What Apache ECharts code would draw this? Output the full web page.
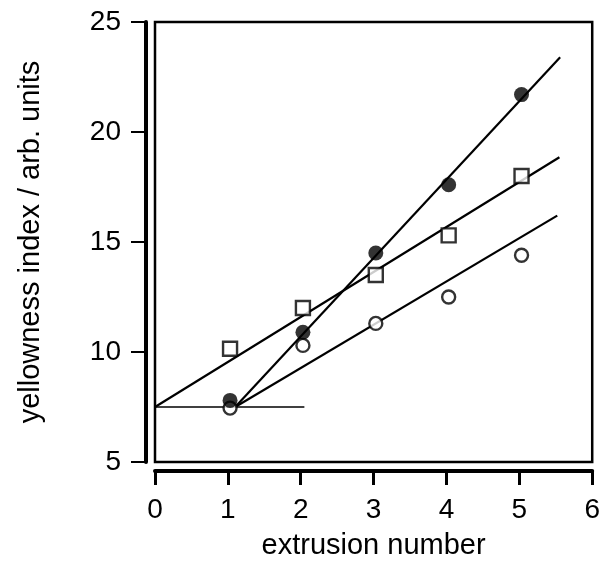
<!DOCTYPE html>
<html>
<head>
<meta charset="utf-8">
<script src="https://cdn.jsdelivr.net/npm/echarts@6/dist/echarts.min.js"></script>
<style>
  html, body { margin: 0; padding: 0; background: #fff; }
  #chart { width: 603px; height: 567px; }
</style>
</head>
<body>
<div id="chart"></div>
<script>
// data
const xFilled = [1.03, 2.03, 3.03, 4.03, 5.03];
const yFilled = [7.8, 10.9, 14.5, 17.6, 21.7];
const xSquare = [1.03, 2.03, 3.03, 4.03, 5.03];
const ySquare = [10.15, 12.0, 13.5, 15.3, 18.0];
const xOpen = [1.03, 2.03, 3.03, 4.03, 5.03];
const yOpen = [7.45, 10.3, 11.3, 12.5, 14.4];

// straight lines drawn in the figure (endpoints)
const lineFilled = [[1.1, 7.5], [5.56, 23.4]];
const lineSquare = [[0, 7.5], [5.55, 18.85]];
const lineOpen = [[1.1, 7.5], [5.52, 16.2]];
const lineBase = [[0, 7.5], [2.05, 7.5]];

const xTicks = [0, 1, 2, 3, 4, 5, 6];
const yTicks = [5, 10, 15, 20, 25];

function pairs(xs, ys) {
    return xs.map((x, i) => [x, ys[i]]);
}

const font = 'Liberation Sans, Arial, Helvetica, sans-serif';

const chart = echarts.init(document.getElementById('chart'));

function lineSeries(data, width) {
    return {
        type: 'line',
        data: data,
        symbol: 'none',
        silent: true,
        lineStyle: { color: '#000', width: width },
        z: 2
    };
}

chart.setOption({
    animation: false,
    grid: {
        left: 155, right: 8, top: 22, bottom: 105,
        show: true, borderColor: '#000', borderWidth: 2.5, backgroundColor: '#fff'
    },
    xAxis: {
        type: 'value',
        min: xTicks[0], max: xTicks[xTicks.length - 1], interval: 1,
        offset: 9,
        name: 'extrusion number',
        nameLocation: 'middle',
        nameGap: 60,
        nameTextStyle: { fontFamily: font, fontSize: 29, color: '#000' },
        axisLine: { show: true, onZero: false, lineStyle: { color: '#000', width: 4 } },
        axisTick: { show: true, length: 14, lineStyle: { color: '#000', width: 3 } },
        axisLabel: { fontFamily: font, fontSize: 28, color: '#000', margin: 25 },
        splitLine: { show: false }
    },
    yAxis: {
        type: 'value',
        min: yTicks[0], max: yTicks[yTicks.length - 1], interval: 5,
        offset: 9,
        name: 'yellowness index / arb. units',
        nameLocation: 'middle',
        nameGap: 101,
        nameTextStyle: { fontFamily: font, fontSize: 29, color: '#000' },
        axisLine: { show: true, onZero: false, lineStyle: { color: '#000', width: 4 } },
        axisTick: { show: true, length: 15, lineStyle: { color: '#000', width: 2 } },
        axisLabel: { fontFamily: font, fontSize: 28, color: '#000', margin: 25 },
        splitLine: { show: false }
    },
    series: [
        lineSeries(lineBase, 1.5),
        lineSeries(lineFilled, 2.2),
        lineSeries(lineSquare, 2.2),
        lineSeries(lineOpen, 2.2),
        {
            type: 'scatter',
            data: pairs(xSquare, ySquare),
            symbol: 'rect',
            symbolSize: 14,
            itemStyle: { color: '#fff', borderColor: '#000', borderWidth: 2.4 },
            z: 3
        },
        {
            type: 'scatter',
            data: pairs(xOpen, yOpen),
            symbol: 'circle',
            symbolSize: 13,
            itemStyle: { color: '#fff', borderColor: '#000', borderWidth: 2.4 },
            z: 3
        },
        {
            type: 'scatter',
            data: pairs(xFilled, yFilled),
            symbol: 'circle',
            symbolSize: 15,
            itemStyle: { color: '#000' },
            z: 4
        }
    ]
});

window.addEventListener('resize', function() {
    chart.resize();
});
</script>
</body>
</html>
